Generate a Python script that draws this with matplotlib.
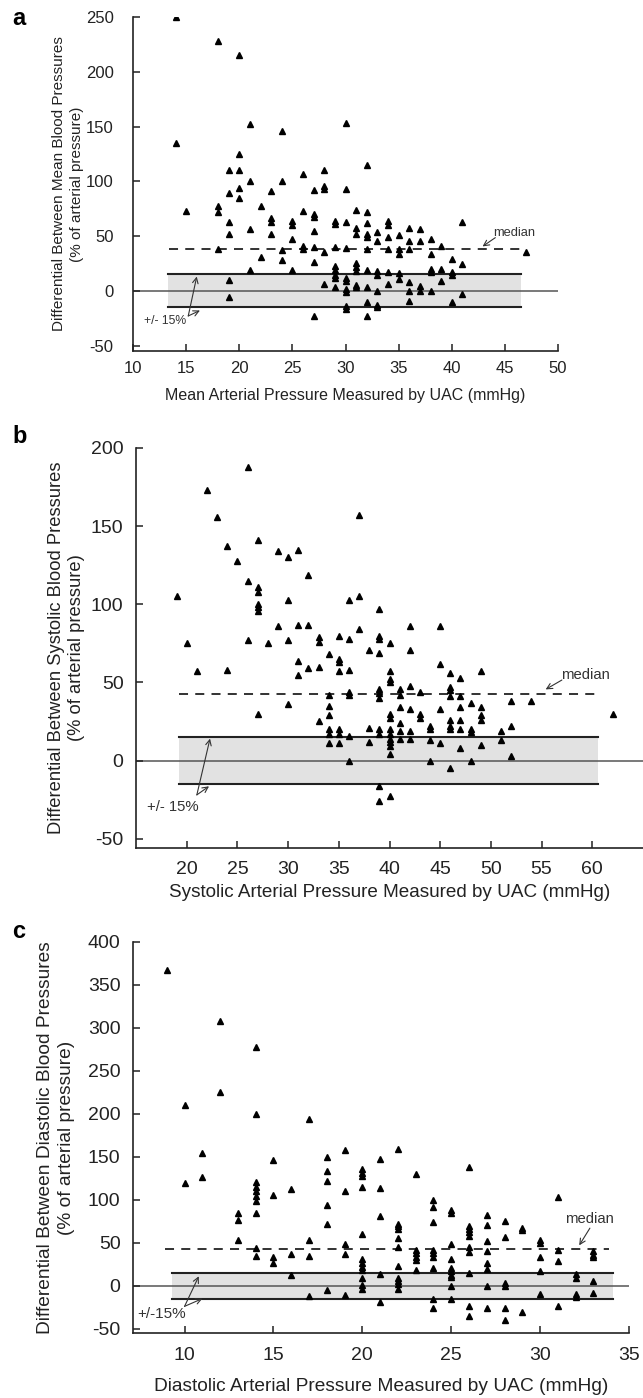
import matplotlib
matplotlib.use('Agg')
import matplotlib.pyplot as plt

plt.rcParams['font.family'] = ['Liberation Sans', 'DejaVu Sans']
plt.rcParams['axes.unicode_minus'] = False

# panel a: mean pressure
map_x = [14, 14, 15, 18, 18, 18, 18, 19, 19, 19, 19, 19, 19,
         20, 20, 20, 20, 20, 21, 21, 21, 21, 22, 22, 23, 23, 23, 23,
         24, 24, 24, 24, 25, 25, 25, 25, 26, 26, 26, 26,
         27, 27, 27, 27, 27, 27, 27, 28, 28, 28, 28, 28,
         29, 29, 29, 29, 29, 29, 29, 29,
         30, 30, 30, 30, 30, 30, 30, 30, 30, 30,
         31, 31, 31, 31, 31, 31, 31, 31,
         32, 32, 32, 32, 32, 32, 32, 32, 32, 32,
         33, 33, 33, 33, 33, 33, 33, 34, 34, 34, 34, 34, 34,
         35, 35, 35, 35, 35, 36, 36, 36, 36, 36, 36, 37, 37, 37, 37,
         38, 38, 38, 38, 38, 39, 39, 39, 40, 40, 40, 40, 41, 41, 41, 47]
map_y = [250, 135, 73, 228, 77, 72, 38, 110, 89, 63, 52, 10, -6,
         215, 125, 110, 94, 85, 152, 100, 56, 19, 77, 31, 91, 66, 63, 52,
         146, 100, 37, 28, 64, 60, 47, 19, 107, 73, 41, 38,
         92, 70, 67, 55, 40, 26, -23, 110, 96, 93, 35, 6,
         64, 61, 40, 23, 19, 14, 12, 3,
         153, 93, 63, 39, 12, 9, 2, -1, -14, -17,
         74, 57, 52, 25, 22, 18, 5, 3,
         115, 72, 62, 52, 49, 38, 19, 3, -10, -23,
         54, 45, 18, 14, 0, -13, -15, 64, 60, 49, 38, 17, 6,
         51, 38, 34, 16, 11, 57, 45, 38, 8, 0, -9, 56, 45, 4, 0,
         47, 34, 20, 17, 0, 41, 20, 9, 29, 17, 14, -10, 63, 24, -3, 35]

# panel b: systolic pressure
sbp_x = [19, 20, 21, 22, 23, 24, 24, 25, 26, 26, 26,
         27, 27, 27, 27, 27, 27, 27, 28, 29, 29, 30, 30, 30, 30,
         31, 31, 31, 31, 32, 32, 32, 33, 33, 33, 33,
         34, 34, 34, 34, 34, 34, 34, 35, 35, 35, 35, 35, 35, 35,
         36, 36, 36, 36, 36, 36, 36, 37, 37, 37, 38, 38, 38,
         39, 39, 39, 39, 39, 39, 39, 39, 39, 39, 39,
         40, 40, 40, 40, 40, 40, 40, 40, 40, 40, 40, 40, 40,
         41, 41, 41, 41, 41, 41, 42, 42, 42, 42, 42, 42,
         43, 43, 43, 44, 44, 44, 44, 45, 45, 45, 45,
         46, 46, 46, 46, 46, 46, 46, 46, 47, 47, 47, 47, 47, 47,
         48, 48, 48, 48, 49, 49, 49, 49, 49, 51, 51, 52, 52, 52, 54, 62]
sbp_y = [105, 75, 57, 173, 156, 137, 58, 128, 188, 115, 77,
         141, 111, 108, 100, 98, 96, 30, 75, 134, 86, 130, 103, 77, 36,
         135, 87, 64, 55, 119, 87, 59, 79, 76, 60, 25,
         68, 42, 35, 29, 20, 17, 11, 80, 65, 63, 57, 20, 17, 11,
         103, 78, 58, 44, 42, 16, 0, 157, 105, 84, 71, 21, 12,
         97, 80, 78, 69, 46, 43, 40, 20, 17, -16, -26,
         75, 57, 52, 50, 30, 27, 20, 17, 14, 12, 9, 4, -23,
         46, 42, 34, 24, 19, 14, 86, 71, 48, 33, 19, 14,
         44, 30, 27, 22, 20, 13, 0, 86, 62, 33, 11,
         56, 47, 45, 41, 26, 22, 20, -5, 53, 41, 34, 26, 20, 8,
         37, 20, 18, 0, 57, 34, 29, 26, 10, 19, 13, 38, 22, 3, 38, 30]

# panel c: diastolic pressure
dbp_x = [9, 10, 10, 11, 11, 12, 12, 13, 13, 13,
         14, 14, 14, 14, 14, 14, 14, 14, 14, 14, 15, 15, 15, 15,
         16, 16, 16, 17, 17, 17, 17, 18, 18, 18, 18, 18, 18,
         19, 19, 19, 19, 19,
         20, 20, 20, 20, 20, 20, 20, 20, 20, 20, 20, 20,
         21, 21, 21, 21, 21,
         22, 22, 22, 22, 22, 22, 22, 22, 22, 22, 22,
         23, 23, 23, 23, 23, 23, 24, 24, 24, 24, 24, 24, 24, 24, 24,
         25, 25, 25, 25, 25, 25, 25, 25, 25, 25,
         26, 26, 26, 26, 26, 26, 26, 26, 26, 26,
         27, 27, 27, 27, 27, 27, 27, 27, 28, 28, 28, 28, 28, 28,
         29, 29, 29, 30, 30, 30, 30, 30, 31, 31, 31, 31,
         32, 32, 32, 32, 33, 33, 33, 33, 33]
dbp_y = [367, 210, 120, 154, 127, 308, 225, 85, 76, 53,
         278, 200, 121, 115, 110, 105, 99, 85, 44, 35, 146, 106, 33, 27,
         112, 37, 12, 194, 53, 35, -12, 150, 133, 122, 94, 72, -5,
         158, 110, 48, 37, -11,
         136, 131, 128, 115, 60, 31, 26, 22, 18, 9, 1, -4,
         148, 114, 81, 14, -19,
         159, 72, 69, 66, 55, 45, 23, 9, 5, 2, -4,
         130, 42, 38, 34, 30, 18, 100, 92, 74, 42, 38, 34, 21, -16, -26,
         88, 85, 48, 31, 21, 17, 13, 10, 0, -16,
         138, 70, 66, 62, 58, 45, 39, 15, -24, -35,
         82, 71, 52, 40, 27, 19, 0, -26, 75, 57, 3, 0, -26, -40,
         67, 65, -31, 53, 50, 33, 17, -10, 103, 42, 29, -23,
         14, 9, -10, -13, 40, 36, 33, 6, -9]

W, H = 643, 1398
fig = plt.figure(figsize=(W / 100, H / 100), dpi=100)


def box(l, r, t, b):
    return [l / W, 1 - b / H, (r - l) / W, (b - t) / H]


def panel(ax, xs, ys, xlim, ylim, yticks, xticks, band, med, xlabel, ylabel,
          fs, xlblfs, ylblfs, ms, xpad, ypad, lblx, lsp, xlblpad):
    ax.fill_between(band, -15, 15, color='#e2e2e2', lw=0, zorder=0)
    ax.plot(band, [15, 15], color='#222222', lw=1.5, zorder=1)
    ax.plot(band, [-15, -15], color='#222222', lw=1.5, zorder=1)
    ax.axhline(0, color='#555555', lw=1.1, zorder=1)
    ax.plot(med[0], [med[1], med[1]], color='#222222', lw=1.3, ls=(0, (5, 4)), zorder=1)
    ax.plot(xs, ys, ls='none', marker='^', ms=ms, color='black', zorder=3)
    ax.set_xlim(*xlim)
    ax.set_ylim(*ylim)
    ax.set_yticks(yticks)
    ax.set_xticks(xticks)
    ax.spines['top'].set_visible(False)
    ax.spines['right'].set_visible(False)
    for s in ('left', 'bottom'):
        ax.spines[s].set_linewidth(1.2)
        ax.spines[s].set_color('#222222')
    ax.tick_params(direction='in', length=5, width=1.1, labelsize=fs, colors='#222222')
    ax.tick_params(axis='x', pad=xpad)
    ax.tick_params(axis='y', pad=ypad)
    ax.set_xlabel(xlabel, fontsize=xlblfs, color='#222222', labelpad=xlblpad)
    ax.set_ylabel(ylabel, fontsize=ylblfs, color='#222222', linespacing=lsp)
    ax.yaxis.set_label_coords(lblx, 0.5)


def arrow(ax, tip, tail, lw=0.8):
    ax.annotate('', xy=tip, xytext=tail,
                arrowprops=dict(arrowstyle='->', lw=lw, color='#333333',
                                shrinkA=0, shrinkB=0, mutation_scale=10))


# a
ax1 = fig.add_axes(box(133, 558, 17, 351))
panel(ax1, map_x, map_y, (10, 50), (-55, 250), range(-50, 251, 50), range(10, 51, 5),
      [13.3, 46.5], ([13.4, 46.5], 38),
      'Mean Arterial Pressure Measured by UAC (mmHg)',
      'Differential Between Mean Blood Pressures\n(% of arterial pressure)',
      12, 11.5, 11, 4, 7, 14, -0.115, 1.4, 9)
ax1.text(45.9, 53, 'median', fontsize=9.3, color='#333333', ha='center', va='center')
arrow(ax1, (42.9, 40.5), (44.1, 48.5))
ax1.text(13.0, -28, '+/- 15%', fontsize=8.8, color='#333333', ha='center', va='center')
arrow(ax1, (16.0, 13), (15.2, -23))
arrow(ax1, (16.3, -18), (15.2, -23))
fig.text(12 / W, 1 - 25 / H, 'a', fontsize=17, fontweight='bold', va='baseline')

# b
ax2 = fig.add_axes(box(136, 643, 448, 848))
panel(ax2, sbp_x, sbp_y, (15, 65), (-56, 200), range(-50, 201, 50), range(20, 61, 5),
      [19.2, 60.6], ([19.2, 60.4], 42.7),
      'Systolic Arterial Pressure Measured by UAC (mmHg)',
      'Differential Between Systolic Blood Pressures\n(% of arterial pressure)',
      14, 13.6, 13.2, 4.5, 9, 9, -0.1, 1.25, 5)
ax2.text(59.3, 54.5, 'median', fontsize=10.7, color='#333333', ha='center', va='center')
arrow(ax2, (55.4, 45.5), (57.0, 51.5))
ax2.text(18.6, -30, '+/- 15%', fontsize=10.7, color='#333333', ha='center', va='center')
arrow(ax2, (22.3, 14), (21.0, -22))
arrow(ax2, (22.2, -16.5), (21.0, -22))
fig.text(12 / W, 1 - 443 / H, 'b', fontsize=17, fontweight='bold', va='baseline')

# c
ax3 = fig.add_axes(box(133, 629, 942, 1333))
panel(ax3, dbp_x, dbp_y, (7.1, 35), (-55, 400), range(-50, 401, 50), range(10, 36, 5),
      [9.3, 34.1], ([8.9, 33.9], 42.2),
      'Diastolic Arterial Pressure Measured by UAC (mmHg)',
      'Differential Between Diastolic Blood Pressures\n(% of arterial pressure)',
      14, 13.8, 13.8, 4.5, 10, 9, -0.117, 1.3, 10)
ax3.text(32.8, 78, 'median', fontsize=10.7, color='#333333', ha='center', va='center')
arrow(ax3, (32.2, 47), (32.8, 67))
ax3.text(8.7, -33, '+/-15%', fontsize=11, color='#333333', ha='center', va='center')
arrow(ax3, (10.8, 11), (10.0, -24))
arrow(ax3, (11.0, -15), (10.0, -24))
fig.text(12 / W, 1 - 938 / H, 'c', fontsize=17, fontweight='bold', va='baseline')

fig.savefig('out.png', dpi=100)
